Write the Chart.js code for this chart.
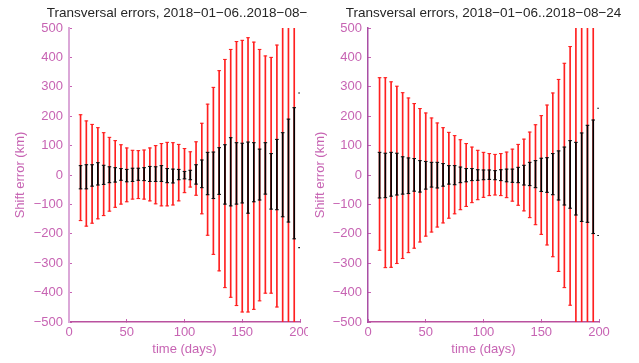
<!DOCTYPE html>
<html>
<head>
<meta charset="utf-8">
<script src="https://cdn.jsdelivr.net/npm/chart.js@4"></script>
<style>
  body { margin: 0; background: #fff; }
  #wrap { position: relative; width: 639px; height: 363px; overflow: hidden; }
  canvas { position: absolute; top: 0; }
  #left { left: 0; }
  #right { left: 308px; background: #fff; }
</style>
</head>
<body>
<div id="wrap">
  <canvas id="left" width="320" height="363"></canvas>
  <canvas id="right" width="331" height="363"></canvas>
</div>
<script>
// ---------- Data ----------
const days = [10, 15, 20, 25, 30, 35, 40, 45, 50, 55, 60, 65, 70, 75, 80, 85, 90, 95, 100, 105,
  110, 115, 120, 125, 130, 135, 140, 145, 150, 155, 160, 165, 170, 175, 180, 185, 190, 195];

// left panel
const leftRedHi = [205, 184, 172, 161, 144, 128, 117, 103, 92, 84, 83, 85, 92, 100, 107, 111, 110, 104, 90, 79,
  113, 176, 241, 298, 355, 393, 427, 454, 458, 467, 452, 427, 405, 400, 442, 560, 600, 640];
const leftRedLo = [-155, -174, -164, -149, -138, -123, -110, -99, -91, -82, -80, -82, -88, -98, -105, -105, -102, -88, -60, -41,
  -69, -132, -205, -270, -326, -383, -416, -444, -466, -466, -457, -428, -402, -402, -449, -560, -600, -640];
const leftBlkHi = [32, 35, 35, 42, 33, 28, 25, 22, 19, 23, 23, 25, 29, 28, 32, 22, 20, 19, 12, 16,
  35, 51, 77, 78, 93, 103, 127, 110, 108, 112, 110, 88, 110, 73, 121, 144, 190, 229];
const leftBlkLo = [-47, -47, -38, -34, -32, -26, -24, -18, -23, -22, -18, -19, -22, -22, -22, -26, -27, -16, -13, -16,
  -31, -43, -67, -80, -66, -99, -105, -99, -95, -130, -91, -85, -65, -116, -118, -142, -160, -217];
const leftExtra = [279, -247];

// right panel
const rightRedHi = [331, 331, 317, 302, 280, 262, 243, 226, 211, 194, 177, 161, 145, 134, 120, 107, 95, 84, 77, 73,
  70, 73, 78, 88, 104, 122, 146, 171, 202, 238, 279, 325, 380, 437, 520, 560, 600, 640];
const rightRedLo = [-256, -315, -314, -301, -284, -264, -249, -228, -208, -194, -177, -163, -147, -132, -118, -107, -94, -84, -76, -70,
  -68, -70, -77, -89, -103, -122, -145, -169, -202, -238, -278, -328, -383, -443, -520, -560, -600, -640];
const rightBlkHi = [77, 74, 77, 74, 62, 58, 56, 49, 46, 43, 43, 39, 32, 32, 27, 22, 22, 18, 17, 17,
  15, 18, 20, 20, 26, 33, 43, 49, 57, 59, 73, 82, 95, 117, 111, 143, 169, 187];
const rightBlkLo = [-78, -77, -72, -68, -65, -63, -55, -58, -48, -41, -44, -38, -31, -33, -26, -23, -19, -18, -16, -15,
  -16, -19, -23, -25, -26, -34, -36, -43, -56, -59, -67, -85, -102, -113, -136, -158, -161, -199];
const rightExtra = [227, -206];
const extraDay = 200;

const titleText = "Transversal errors, 2018\u221201\u221206..2018\u221208\u221224";

// ---------- Helpers ----------
const FONT = "'Liberation Sans', Arial, Helvetica, sans-serif";
const PINK = "#c764b3";
const minus = (v) => (v < 0 ? "\u2212" + Math.abs(v) : String(v));

const bars = (lo, hi) => days.map((d, i) => ({ x: d, y: [lo[i], hi[i]] }));
const caps = (lo, hi) => days.flatMap((d, i) => [{ x: d, y: hi[i] }, { x: d, y: lo[i] }]);

// title centred over the plot area, wider than it (no squeeze)
const plotTitle = {
  id: "plotTitle",
  afterDraw(chart) {
    const { ctx, chartArea } = chart;
    ctx.save();
    ctx.font = "13.5px " + FONT;
    ctx.fillStyle = "#262626";
    ctx.textAlign = "center";
    ctx.textBaseline = "middle";
    ctx.fillText(titleText, (chartArea.left + chartArea.right) / 2, 13);
    ctx.restore();
  },
};

function capSet(data, color, order) {
  return {
    type: "line", data, order, showLine: false,
    pointStyle: "line", pointRadius: 1.8, pointBorderWidth: 1.1,
    pointBorderColor: color, pointBackgroundColor: color,
  };
}

function makePanel(id, d, geo) {
  return new Chart(document.getElementById(id), {
    type: "bar",
    plugins: [plotTitle],
    data: {
      datasets: [
        capSet(d.extra.map((v) => ({ x: extraDay, y: v })), "#222", 0),
        capSet(caps(d.blkLo, d.blkHi), "#111", 1),
        { data: bars(d.blkLo, d.blkHi), backgroundColor: "#000", order: 2 },
        capSet(caps(d.redLo, d.redHi), "#ff2020", 3),
        { data: bars(d.redLo, d.redHi), backgroundColor: "#ff2020", order: 4 },
      ],
    },
    options: {
      responsive: false, animation: false, events: [],
      layout: { padding: { left: 0, right: geo.padRight, top: 28, bottom: 0 } },
      datasets: { bar: { barThickness: 1, grouped: false, borderWidth: 0 } },
      plugins: {
        legend: { display: false },
        tooltip: { enabled: false },
        title: { display: false },
      },
      scales: {
        x: {
          type: "linear", min: 0, max: 200, offset: false,
          afterFit: (s) => { s.height = 41; },
          border: { color: "#b9519f", width: 1.5 },
          grid: { drawOnChartArea: false, offset: false, tickLength: -3, tickColor: PINK },
          ticks: { stepSize: 50, color: PINK, padding: 6, font: { family: FONT, size: 13 } },
          title: { display: true, text: "time (days)", color: PINK, padding: { top: 0, bottom: 5.5 }, font: { family: FONT, size: 13 } },
        },
        y: {
          min: -500, max: 500,
          afterFit: (s) => { s.width = geo.axisWidth; },
          border: { color: geo.axisColor, width: geo.axisLine },
          grid: { drawOnChartArea: false, tickLength: -3, tickColor: PINK },
          ticks: { stepSize: 100, color: PINK, padding: 9, callback: minus, font: { family: FONT, size: 13 } },
          title: { display: true, text: "Shift error (km)", color: PINK, padding: { top: geo.titlePad, bottom: 0 }, font: { family: FONT, size: 13 } },
        },
      },
    },
  });
}

// ---------- Boot ----------
makePanel("left",
  { redHi: leftRedHi, redLo: leftRedLo, blkHi: leftBlkHi, blkLo: leftBlkLo, extra: leftExtra },
  { axisWidth: 69, padRight: 20, axisColor: "#dba8d8", axisLine: 2, titlePad: 13 });
makePanel("right",
  { redHi: rightRedHi, redLo: rightRedLo, blkHi: rightBlkHi, blkLo: rightBlkLo, extra: rightExtra },
  { axisWidth: 60, padRight: 40, axisColor: "#a94fa5", axisLine: 1.5, titlePad: 5 });
</script>
</body>
</html>
